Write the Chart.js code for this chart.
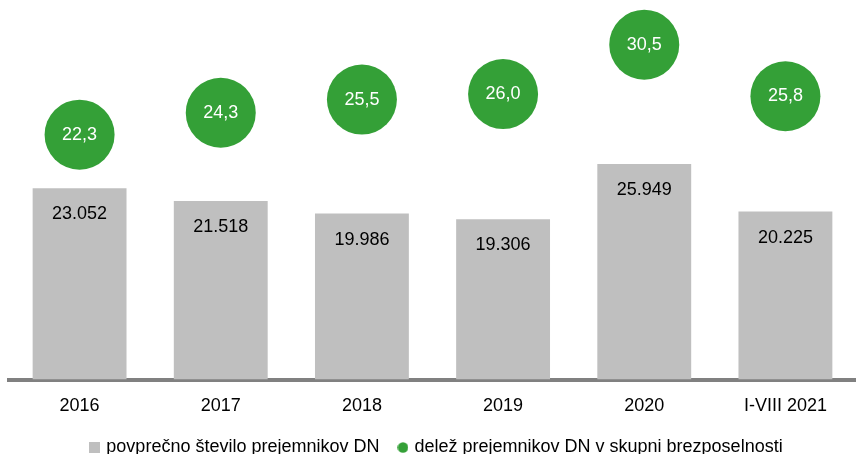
<!DOCTYPE html>
<html>
<head>
<meta charset="utf-8">
<script src="https://cdn.jsdelivr.net/npm/chart.js@4.4.0/dist/chart.umd.min.js"></script>
<style>
  html, body { margin: 0; padding: 0; background: #ffffff; }
  #wrap { width: 856px; height: 454px; position: relative; }
</style>
</head>
<body>
<div id="wrap"><canvas id="c" width="856" height="454"></canvas></div>
<script>
const categories = ['2016', '2017', '2018', '2019', '2020', 'I-VIII 2021'];
const recipients = [23052, 21518, 19986, 19306, 25949, 20225];
const shares = [22.3, 24.3, 25.5, 26.0, 30.5, 25.8];
const seriesNames = ['povprečno število prejemnikov DN', 'delež prejemnikov DN v skupni brezposelnosti'];

const FONT = "'Liberation Sans', Arial, sans-serif";
const FS = 18;
const GREY = '#bfbfbf';
const GREEN = '#34a037';

function fmtInt(v) {
  return String(Math.round(v)).replace(/\B(?=(\d{3})+(?!\d))/g, '.');
}
function fmtDec(v) {
  return v.toFixed(1).replace('.', ',');
}

function markerCanvas(kind, color) {
  const c = document.createElement('canvas');
  c.width = 11; c.height = 11;
  const g = c.getContext('2d');
  g.fillStyle = color;
  if (kind === 'rect') {
    g.fillRect(0, 0, 11, 11);
  } else {
    g.beginPath(); g.arc(5.5, 5.5, 5.3, 0, Math.PI * 2); g.fill();
  }
  return c;
}
const legendMarkers = [markerCanvas('rect', GREY), markerCanvas('circle', GREEN)];

const labelPlugin = {
  id: 'valueLabels',
  afterDatasetsDraw(chart) {
    const ctx = chart.ctx;
    ctx.save();
    ctx.font = FS + 'px ' + FONT;
    ctx.textAlign = 'center';
    ctx.textBaseline = 'middle';
    ctx.fillStyle = '#000000';
    chart.getDatasetMeta(0).data.forEach((bar, i) => {
      ctx.fillText(fmtInt(recipients[i]), bar.x, bar.y + 26);
    });
    ctx.fillStyle = '#ffffff';
    chart.getDatasetMeta(1).data.forEach((pt, i) => {
      ctx.fillText(fmtDec(shares[i]), pt.x, pt.y);
    });
    ctx.restore();
  }
};

new Chart(document.getElementById('c'), {
  type: 'bar',
  data: {
    labels: categories,
    datasets: [
      {
        label: seriesNames[0],
        data: recipients,
        backgroundColor: GREY,
        borderWidth: 0,
        barPercentage: 0.665,
        categoryPercentage: 1.0,
        yAxisID: 'y'
      },
      {
        type: 'line',
        label: seriesNames[1],
        data: shares,
        showLine: false,
        pointRadius: 35,
        pointHoverRadius: 35,
        pointBackgroundColor: GREEN,
        pointBorderWidth: 0,
        backgroundColor: GREEN,
        borderColor: GREEN,
        clip: false,
        yAxisID: 'y2'
      }
    ]
  },
  options: {
    responsive: false,
    animation: false,
    devicePixelRatio: 1,
    layout: { autoPadding: false, padding: { left: 9, right: -10, top: 0, bottom: -12.5 } },
    plugins: {
      tooltip: { enabled: false },
      legend: {
        position: 'bottom',
        labels: {
          font: { family: FONT, size: FS },
          color: '#000000',
          usePointStyle: true,
          boxWidth: 5,
          boxHeight: 11,
          padding: 21,
          generateLabels(chart) {
            const items = Chart.defaults.plugins.legend.labels.generateLabels(chart);
            items.forEach((it, i) => { it.pointStyle = legendMarkers[i]; });
            return items;
          }
        }
      }
    },
    scales: {
      x: {
        grid: { display: false, drawTicks: false },
        border: { display: true, color: '#808080', width: 4 },
        ticks: {
          font: { family: FONT, size: FS, lineHeight: 21 / 18 },
          color: '#000000',
          padding: 16,
          maxRotation: 0,
          autoSkip: false
        },
        afterFit(scale) { scale.height = 38; }
      },
      y: {
        display: false,
        min: 0,
        max: 45720
      },
      y2: {
        display: false,
        position: 'right',
        min: 0,
        max: 34.57
      }
    }
  },
  plugins: [labelPlugin]
});
</script>
</body>
</html>
